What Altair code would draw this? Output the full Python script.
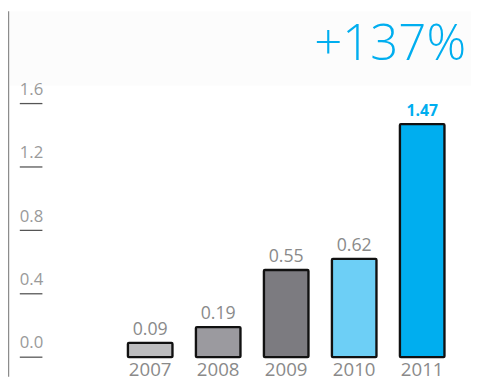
import altair as alt
import pandas as pd

years = ["2007", "2008", "2009", "2010", "2011"]
values = [0.09, 0.19, 0.55, 0.62, 1.47]
labels = ["0.09", "0.19", "0.55", "0.62", "1.47"]
bar_colors = ["#bdbdbf", "#9b9a9f", "#7c7b80", "#6dcff6", "#00aeef"]
highlight = [False, False, False, False, True]
tick_values = [0.0, 0.4, 0.8, 1.2, 1.6]
tick_labels = ["0.0", "0.4", "0.8", "1.2", "1.6"]
headline = "+137%"

df = pd.DataFrame({"year": years, "value": values, "label": labels, "hl": highlight})
ticks = pd.DataFrame({"v": tick_values, "t": tick_labels})

W, H = 471, 372
yscale = alt.Scale(domain=[-0.124, 2.183], nice=False, zero=False)
xscale = alt.Scale(domain=years, range=[122, 444], paddingInner=0.345, paddingOuter=0)

bg = alt.Chart(pd.DataFrame({"a": [0]})).mark_rect(color="#fcfcfc").encode(
    x=alt.value(2), x2=alt.value(W), y=alt.value(0), y2=alt.value(76))

vline = alt.Chart(pd.DataFrame({"a": [0]})).mark_rule(color="#8c8c8c", strokeWidth=1.5).encode(
    x=alt.value(0.5), y=alt.value(0), y2=alt.value(H))

tick_rules = alt.Chart(ticks).mark_rule(color="#555555", strokeWidth=1.3).encode(
    y=alt.Y("v:Q", scale=yscale, axis=None),
    x=alt.value(12), x2=alt.value(35))

tick_text = alt.Chart(ticks).mark_text(
    align="left", baseline="alphabetic", dy=-9, fontSize=17, color="#9a9a9a",
    font="Open Sans").encode(
    y=alt.Y("v:Q", scale=yscale, axis=None),
    x=alt.value(12), text="t:N")

bars = alt.Chart(df).mark_bar(stroke="#111111", strokeWidth=2.4, cornerRadius=1).encode(
    x=alt.X("year:N", scale=xscale, axis=None),
    y=alt.Y("value:Q", scale=yscale, axis=None),
    y2=alt.datum(0),
    color=alt.Color("year:N", scale=alt.Scale(domain=years, range=bar_colors), legend=None))

val_text = alt.Chart(df).transform_filter("!datum.hl").mark_text(
    baseline="alphabetic", dy=-8, fontSize=18, font="Open Sans", color="#8a8a8a").encode(
    x=alt.X("year:N", scale=xscale, axis=None),
    y=alt.Y("value:Q", scale=yscale, axis=None),
    text="label:N")

val_text_hl = alt.Chart(df).transform_filter("datum.hl").mark_text(
    baseline="alphabetic", dy=-8, fontSize=16, font="Open Sans", fontWeight="bold",
    color="#00aeef").encode(
    x=alt.X("year:N", scale=xscale, axis=None),
    y=alt.Y("value:Q", scale=yscale, axis=None),
    text="label:N")

year_text = alt.Chart(df).mark_text(
    baseline="middle", fontSize=19, color="#8a8a8a", font="Open Sans").encode(
    x=alt.X("year:N", scale=xscale, axis=None),
    y=alt.value(365), text="year:N")

title = alt.Chart(pd.DataFrame({"t": [headline]})).mark_text(
    align="right", baseline="alphabetic", fontSize=50, color="#00aeef",
    font="Open Sans", fontWeight=300).encode(
    x=alt.value(466), y=alt.value(50), text="t:N")

chart = alt.layer(bg, vline, tick_rules, tick_text, bars, val_text, val_text_hl,
                  year_text, title).properties(
    width=W, height=H, autosize="none", padding=0
).configure_view(stroke=None)

chart.save("out.html", embed_options={"renderer": "svg", "actions": False})
